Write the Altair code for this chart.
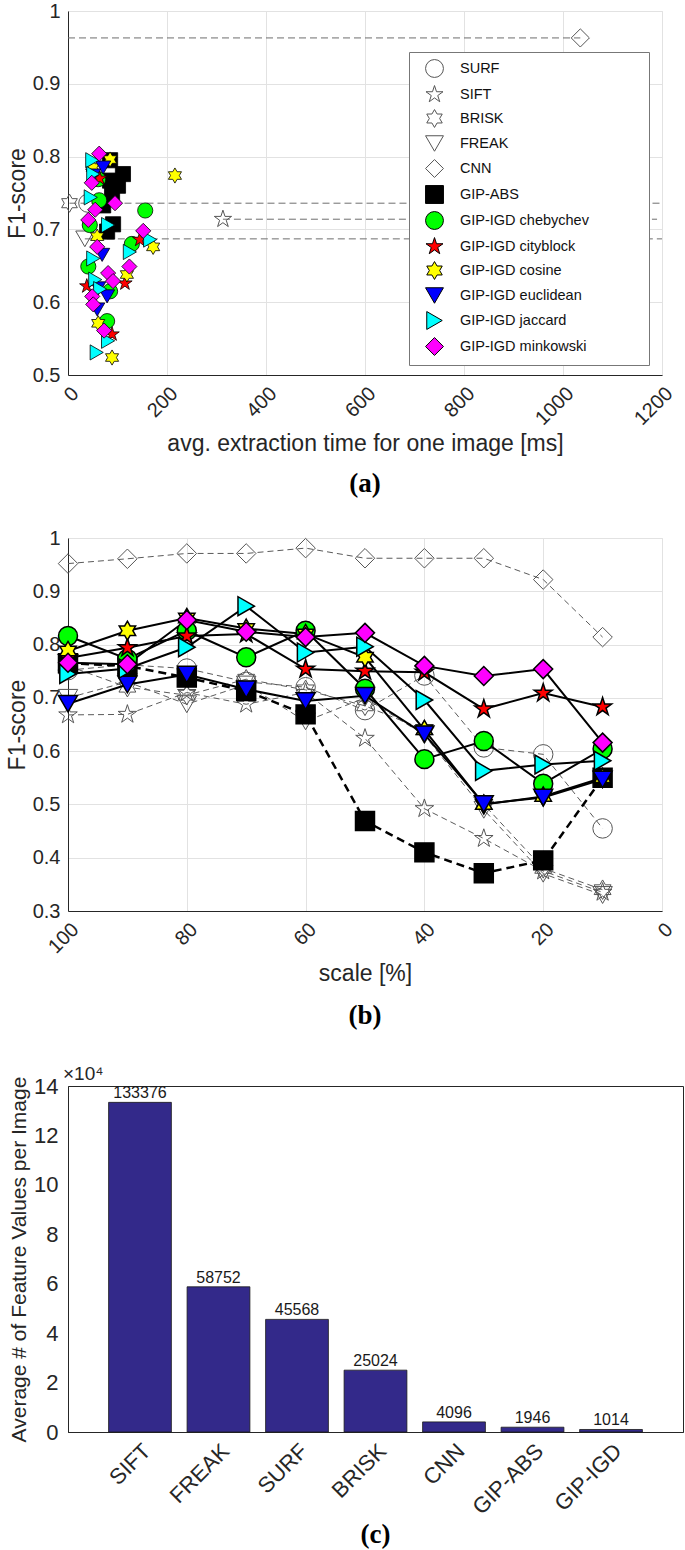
import altair as alt
import pandas as pd

FONT = "Liberation Sans"
SERIF = "Liberation Serif"
INK = "#262626"
GRID = "#e2e2e2"

SERIES = ["SURF", "SIFT", "BRISK", "FREAK", "CNN", "GIP-ABS",
          "GIP-IGD chebychev", "GIP-IGD cityblock", "GIP-IGD cosine",
          "GIP-IGD euclidean", "GIP-IGD jaccard", "GIP-IGD minkowski"]
BASE = SERIES[:5]
GIP = SERIES[5:]

STAR = ("M0,-1L0.225,-0.309L0.951,-0.309L0.363,0.118L0.588,0.809L0,0.382"
        "L-0.588,0.809L-0.363,0.118L-0.951,-0.309L-0.225,-0.309Z")
HEX = ("M0,-1L0.289,-0.5L0.866,-0.5L0.577,0L0.866,0.5L0.289,0.5L0,1"
       "L-0.289,0.5L-0.866,0.5L-0.577,0L-0.866,-0.5L-0.289,-0.5Z")
FILLS = ["transparent"] * 5 + ["#000000", "#00ff00", "#ff0000", "#ffff00",
                               "#0000ff", "#00ffff", "#ff00ff"]
STROKES = ["#555555"] * 5 + ["#000000"] * 7
SHAPES = ["circle", STAR, HEX, "triangle-down", "diamond", "square",
          "circle", STAR, HEX, "triangle-down", "triangle-right", "diamond"]

# ---------------- panel (a): time [ms] vs F1 ----------------
A_SURF_T = [40];   A_SURF_F1 = [0.736]
A_SIFT_T = [313];  A_SIFT_F1 = [0.714]
A_BRISK_T = [3];   A_BRISK_F1 = [0.736]
A_FREAK_T = [34];  A_FREAK_F1 = [0.687]
A_CNN_T = [1035];  A_CNN_F1 = [0.963]
A_ABS_T = [111, 101, 85, 89, 71, 91, 79, 85]
A_ABS_F1 = [0.776, 0.760, 0.767, 0.747, 0.733, 0.707, 0.697, 0.795]
A_CHEB_T = [156, 61, 129, 41, 85, 79, 44, 63]
A_CHEB_F1 = [0.726, 0.769, 0.680, 0.649, 0.615, 0.574, 0.706, 0.740]
A_CITY_T = [115, 145, 38, 89, 64]
A_CITY_F1 = [0.626, 0.686, 0.622, 0.556, 0.770]
A_COS_T = [216, 85, 172, 59, 119, 61, 89, 50]
A_COS_F1 = [0.774, 0.796, 0.676, 0.690, 0.638, 0.571, 0.524, 0.785]
A_EUC_T = [71, 51, 69, 79, 59, 61]
A_EUC_F1 = [0.785, 0.774, 0.665, 0.608, 0.590, 0.619]
A_JAC_T = [49, 51, 46, 81, 166, 125, 51, 55, 65, 81, 58]
A_JAC_F1 = [0.795, 0.776, 0.744, 0.706, 0.686, 0.669, 0.660, 0.631, 0.618, 0.547, 0.531]
A_MINK_T = [63, 48, 95, 55, 41, 152, 59, 81, 91, 124, 49, 51, 73]
A_MINK_F1 = [0.804, 0.764, 0.736, 0.727, 0.713, 0.698, 0.676, 0.640, 0.629, 0.649, 0.608, 0.597, 0.561]

REF_F1 = [0.963, 0.714, 0.736, 0.687]
REF_FROM = [0, 313, 3, 34]
REF_TO = [1035, 1190, 1200, 1200]

# ---------------- panel (b): scale [%] vs F1 ----------------
SCALE = [100, 90, 80, 70, 60, 50, 40, 30, 20, 10]
B_SURF = [0.752, 0.762, 0.755, 0.730, 0.720, 0.677, 0.742, 0.607, 0.594, 0.455]
B_SIFT = [0.668, 0.669, 0.710, 0.688, 0.710, 0.624, 0.492, 0.436, 0.375, 0.335]
B_BRISK = [0.760, 0.720, 0.705, 0.735, 0.715, 0.685, 0.640, 0.500, 0.380, 0.340]
B_FREAK = [0.700, 0.730, 0.688, 0.725, 0.656, 0.700, 0.630, 0.490, 0.370, 0.330]
B_CNN = [0.952, 0.961, 0.971, 0.971, 0.981, 0.962, 0.962, 0.962, 0.922, 0.814]
B_ABS = [0.765, 0.760, 0.738, 0.713, 0.669, 0.469, 0.410, 0.371, 0.395, 0.550]
B_CHEB = [0.816, 0.773, 0.826, 0.776, 0.826, 0.717, 0.585, 0.619, 0.539, 0.604]
B_CITY = [0.775, 0.794, 0.816, 0.820, 0.754, 0.750, 0.748, 0.679, 0.709, 0.683]
B_COS = [0.788, 0.826, 0.850, 0.830, 0.820, 0.776, 0.640, 0.500, 0.515, 0.550]
B_EUC = [0.689, 0.725, 0.744, 0.716, 0.694, 0.704, 0.632, 0.501, 0.513, 0.547]
B_JAC = [0.745, 0.755, 0.795, 0.872, 0.785, 0.796, 0.696, 0.563, 0.575, 0.582]
B_MINK = [0.766, 0.763, 0.846, 0.824, 0.814, 0.822, 0.760, 0.741, 0.754, 0.616]

# ---------------- panel (c): feature counts ----------------
C_METHODS = ["SIFT", "FREAK", "SURF", "BRISK", "CNN", "GIP-ABS", "GIP-IGD"]
C_VALUES = [133376, 58752, 45568, 25024, 4096, 1946, 1014]


def long_df(names, xs_list, ys_list, xname, yname):
    rows = []
    for n, xs, ys in zip(names, xs_list, ys_list):
        for xv, yv in zip(xs, ys):
            rows.append({"series": n, xname: xv, yname: yv})
    return pd.DataFrame(rows)


def style(legend):
    return dict(
        fill=alt.Fill("series:N", scale=alt.Scale(domain=SERIES, range=FILLS), legend=legend),
        stroke=alt.Stroke("series:N", scale=alt.Scale(domain=SERIES, range=STROKES), legend=legend),
        shape=alt.Shape("series:N", scale=alt.Scale(domain=SERIES, range=SHAPES), legend=legend),
    )


def caption(txt, off):
    return alt.TitleParams(txt, orient="bottom", font=SERIF, fontSize=27,
                           fontWeight="bold", color="#000000", offset=off)


# ---- (a)
a_base = long_df(BASE,
                 [A_SURF_T, A_SIFT_T, A_BRISK_T, A_FREAK_T, A_CNN_T],
                 [A_SURF_F1, A_SIFT_F1, A_BRISK_F1, A_FREAK_F1, A_CNN_F1], "t", "f1")
a_gip = long_df(GIP,
                [A_ABS_T, A_CHEB_T, A_CITY_T, A_COS_T, A_EUC_T, A_JAC_T, A_MINK_T],
                [A_ABS_F1, A_CHEB_F1, A_CITY_F1, A_COS_F1, A_EUC_F1, A_JAC_F1, A_MINK_F1], "t", "f1")
ref_df = pd.DataFrame({"f1": REF_F1, "t": REF_FROM, "t2": REF_TO})

xa = alt.X("t:Q", scale=alt.Scale(domain=[0, 1200], nice=False),
           axis=alt.Axis(values=list(range(0, 1201, 200)), format="d", labelAngle=-45,
                         title="avg. extraction time for one image [ms]"))
ya = alt.Y("f1:Q", scale=alt.Scale(domain=[0.5, 1], nice=False, zero=False),
           axis=alt.Axis(values=[0.5, 0.6, 0.7, 0.8, 0.9, 1.0], format="~g", title="F1-score",
                         titlePadding=3))

legend = alt.Legend(
    title=None, orient="none", legendX=341, legendY=41, direction="vertical",
    symbolSize=320, symbolStrokeWidth=1, symbolOffset=9,
    labelFont=FONT, labelFontSize=14.5, labelColor="#111111", labelOffset=16,
    labelLimit=400, padding=7, rowPadding=3,
    strokeColor="#777777", fillColor="white",
    labelExpr="datum.label + '" + "\u00a0" * 13 + "\u200b'",
)

a_refs = alt.Chart(ref_df).mark_rule(strokeDash=[7, 4], color="#6e6e6e", strokeWidth=1).encode(
    x=xa, x2="t2:Q", y=ya)
a_bpts = alt.Chart(a_base).mark_point(filled=True, size=330, strokeWidth=1, opacity=1).encode(
    x=xa, y=ya, **style(legend))
a_gpts = alt.Chart(a_gip).mark_point(filled=True, size=230, strokeWidth=0.8, opacity=1).encode(
    x=xa, y=ya, **style(legend))
panel_a = alt.layer(a_refs, a_bpts, a_gpts).properties(
    width=594, height=364, title=caption("(a)", 15))

# ---- (b)
b_base = long_df(BASE, [SCALE] * 5, [B_SURF, B_SIFT, B_BRISK, B_FREAK, B_CNN], "scale", "f1")
b_gip = long_df(GIP, [SCALE] * 7, [B_ABS, B_CHEB, B_CITY, B_COS, B_EUC, B_JAC, B_MINK], "scale", "f1")
b_abs = b_gip[b_gip["series"] == "GIP-ABS"]
b_igd = b_gip[b_gip["series"] != "GIP-ABS"]

xb = alt.X("scale:Q", scale=alt.Scale(domain=[0, 100], reverse=True, nice=False),
           axis=alt.Axis(values=[0, 20, 40, 60, 80, 100], labelAngle=-45, title="scale [%]",
                         titlePadding=6))
yb = alt.Y("f1:Q", scale=alt.Scale(domain=[0.3, 1], nice=False, zero=False),
           axis=alt.Axis(values=[0.3, 0.4, 0.5, 0.6, 0.7, 0.8, 0.9, 1.0], format="~g",
                         title="F1-score", titlePadding=3))

b_blines = alt.Chart(b_base).mark_line(strokeDash=[6, 4], color="#5a5a5a", strokeWidth=1).encode(
    x=xb, y=yb, detail="series:N")
b_bpts = alt.Chart(b_base).mark_point(filled=True, size=380, strokeWidth=1, opacity=1).encode(
    x=xb, y=yb, **style(None))
b_aline = alt.Chart(b_abs).mark_line(strokeDash=[8, 5], color="#000000", strokeWidth=2.5).encode(
    x=xb, y=yb, detail="series:N")
b_ilines = alt.Chart(b_igd).mark_line(color="#000000", strokeWidth=2).encode(
    x=xb, y=yb, detail="series:N")
b_gpts = alt.Chart(b_gip).mark_point(filled=True, size=360, strokeWidth=1.5, opacity=1).encode(
    x=xb, y=yb, **style(None))
panel_b = alt.layer(b_blines, b_bpts, b_aline, b_ilines, b_gpts).properties(
    width=594, height=373, title=caption("(b)", 17))

# ---- (c)
c_df = pd.DataFrame({"method": C_METHODS, "count": C_VALUES})
xc = alt.X("method:N", sort=C_METHODS,
           scale=alt.Scale(paddingInner=0.2, paddingOuter=0.517),
           axis=alt.Axis(labelAngle=-45, title=None, grid=False, labelFontSize=22))
yc = alt.Y("count:Q", scale=alt.Scale(domain=[0, 140000], nice=False),
           axis=alt.Axis(values=list(range(0, 140001, 20000)), labelExpr="datum.value / 10000",
                         title="Average # of Feature Values per Image", grid=False,
                         labelFontSize=22, titleFontSize=21, labelPadding=10, titlePadding=4))
c_bars = alt.Chart(c_df).mark_bar(color="#33298a", stroke="#1a1a1a", strokeWidth=0.8).encode(
    x=xc, y=yc)
c_text = alt.Chart(c_df).mark_text(baseline="middle", dy=-9, font=FONT, fontSize=16,
                                   color="#1a1a1a").encode(x=xc, y=yc, text="count:Q")
c_exp = alt.Chart(pd.DataFrame({"lab": ["×10⁴"]})).mark_text(
    align="left", baseline="middle", font=FONT, fontSize=19, color=INK).encode(
    x=alt.value(-5), y=alt.value(-12), text="lab:N")
panel_c = alt.layer(c_bars, c_text, c_exp).properties(
    width=615, height=346,
    view=alt.ViewBackground(stroke=INK, strokeWidth=1),
    title=caption("(c)", 4))

top = alt.vconcat(panel_a, panel_b, spacing=29).resolve_scale(
    x="independent", y="independent", fill="independent", stroke="independent",
    shape="independent")
bottom = alt.vconcat(panel_c)

chart = alt.vconcat(top, bottom, spacing=34).resolve_scale(
    x="independent", y="independent", fill="independent", stroke="independent",
    shape="independent").properties(
    padding={"left": 5, "top": 0, "right": 0, "bottom": 0},
    background="white",
).configure_view(stroke=GRID, strokeWidth=1).configure_axis(
    labelFont=FONT, labelFontSize=20, labelColor=INK, titleFont=FONT, titleFontSize=23,
    titleColor=INK, titleFontWeight="normal", domainColor=INK, domainWidth=1,
    ticks=False, labelPadding=8, gridColor=GRID, gridWidth=1,
)

chart.save("out.html", embed_options={"renderer": "svg", "actions": False})
